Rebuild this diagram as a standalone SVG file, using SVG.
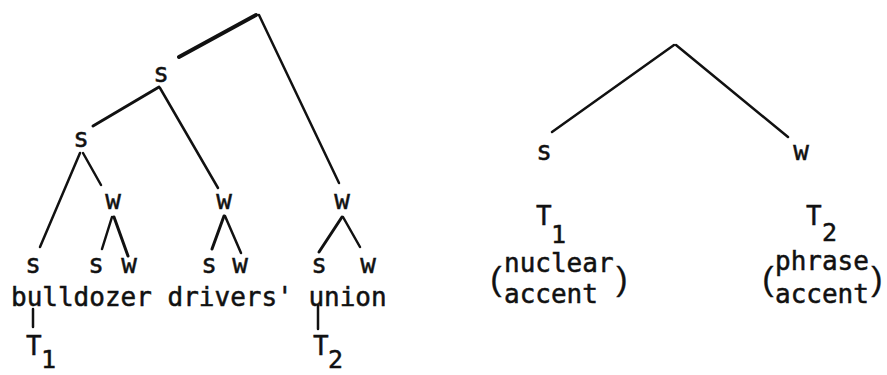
<svg xmlns="http://www.w3.org/2000/svg" width="887" height="375" viewBox="0 0 887 375">
<style>
  text { font-family: "DejaVu Sans Mono", "Liberation Mono", monospace; font-size: 26px; fill: #111; stroke: #111; stroke-width: 0.5; }
  .c { text-anchor: middle; }
  .sub { font-size: 25px; }
  .paren { font-family: "Liberation Sans", "DejaVu Sans", sans-serif; font-size: 34px; text-anchor: middle; stroke-width: 0.3; }
  .e { stroke: #111; stroke-width: 2.5; stroke-linecap: round; fill: none; }
  .thick { stroke-width: 4; }
  .mid { stroke-width: 3; }
</style>
<rect width="887" height="375" fill="#fff"/>
<g id="connectors">
  <line class="e thick" x1="256" y1="15" x2="179" y2="57"/>
  <line class="e" x1="259" y1="15" x2="339" y2="183"/>
  <line class="e mid" x1="159" y1="87" x2="93" y2="126"/>
  <line class="e" x1="160" y1="88" x2="218" y2="188"/>
  <line class="e" x1="80" y1="153" x2="40" y2="247"/>
  <line class="e" x1="83" y1="153" x2="101" y2="185"/>
  <line class="e" x1="112" y1="217" x2="102" y2="249"/>
  <line class="e mid" x1="114" y1="217" x2="128" y2="256"/>
  <line class="e mid" x1="224" y1="216" x2="212" y2="249"/>
  <line class="e" x1="225" y1="216" x2="241" y2="253"/>
  <line class="e mid" x1="342" y1="217" x2="319" y2="252"/>
  <line class="e" x1="343" y1="217" x2="360" y2="247"/>
  <line class="e" x1="33" y1="309" x2="33" y2="327"/>
  <line class="e" x1="318" y1="306" x2="318" y2="329"/>
  <line class="e" x1="674" y1="45" x2="552" y2="132"/>
  <line class="e" x1="676" y1="45" x2="788" y2="137"/>
</g>
<g id="root-left"></g>
<g id="s1"><text class="c" x="161" y="82">s</text></g>
<g id="s2"><text class="c" x="81" y="147">s</text></g>
<g id="w1"><text class="c" x="113" y="209">w</text></g>
<g id="w2"><text class="c" x="224" y="209">w</text></g>
<g id="w3"><text class="c" x="342" y="209">w</text></g>
<g id="leaf-s1"><text class="c" x="33" y="273">s</text></g>
<g id="leaf-s2"><text class="c" x="96" y="273">s</text></g>
<g id="leaf-w2"><text class="c" x="129" y="273">w</text></g>
<g id="leaf-s3"><text class="c" x="209" y="273">s</text></g>
<g id="leaf-w3"><text class="c" x="240" y="273">w</text></g>
<g id="leaf-s4"><text class="c" x="319" y="273">s</text></g>
<g id="leaf-w4"><text class="c" x="368" y="273">w</text></g>
<g id="words"><text x="11" y="306">bulldozer drivers' union</text></g>
<g id="t1-left"><text x="26" y="355">T</text><text class="sub" x="41" y="368">1</text></g>
<g id="t2-left"><text x="313" y="355">T</text><text class="sub" x="328" y="368">2</text></g>
<g id="root-right"></g>
<g id="s-right"><text class="c" x="544" y="160">s</text></g>
<g id="w-right"><text class="c" x="801" y="160">w</text></g>
<g id="t1-right"><text x="536" y="225">T</text><text class="sub" x="551" y="243">1</text></g>
<g id="t2-right"><text x="806" y="225">T</text><text class="sub" x="822" y="241">2</text></g>
<g id="nuclear-accent">
  <text class="paren" x="496" y="290">(</text>
  <text x="504" y="272">nuclear</text>
  <text x="504" y="303">accent</text>
  <text class="paren" x="622" y="290">)</text>
</g>
<g id="phrase-accent">
  <text class="paren" x="768" y="290">(</text>
  <text x="775" y="270">phrase</text>
  <text x="775" y="303">accent</text>
  <text class="paren" x="877" y="290">)</text>
</g>
</svg>
